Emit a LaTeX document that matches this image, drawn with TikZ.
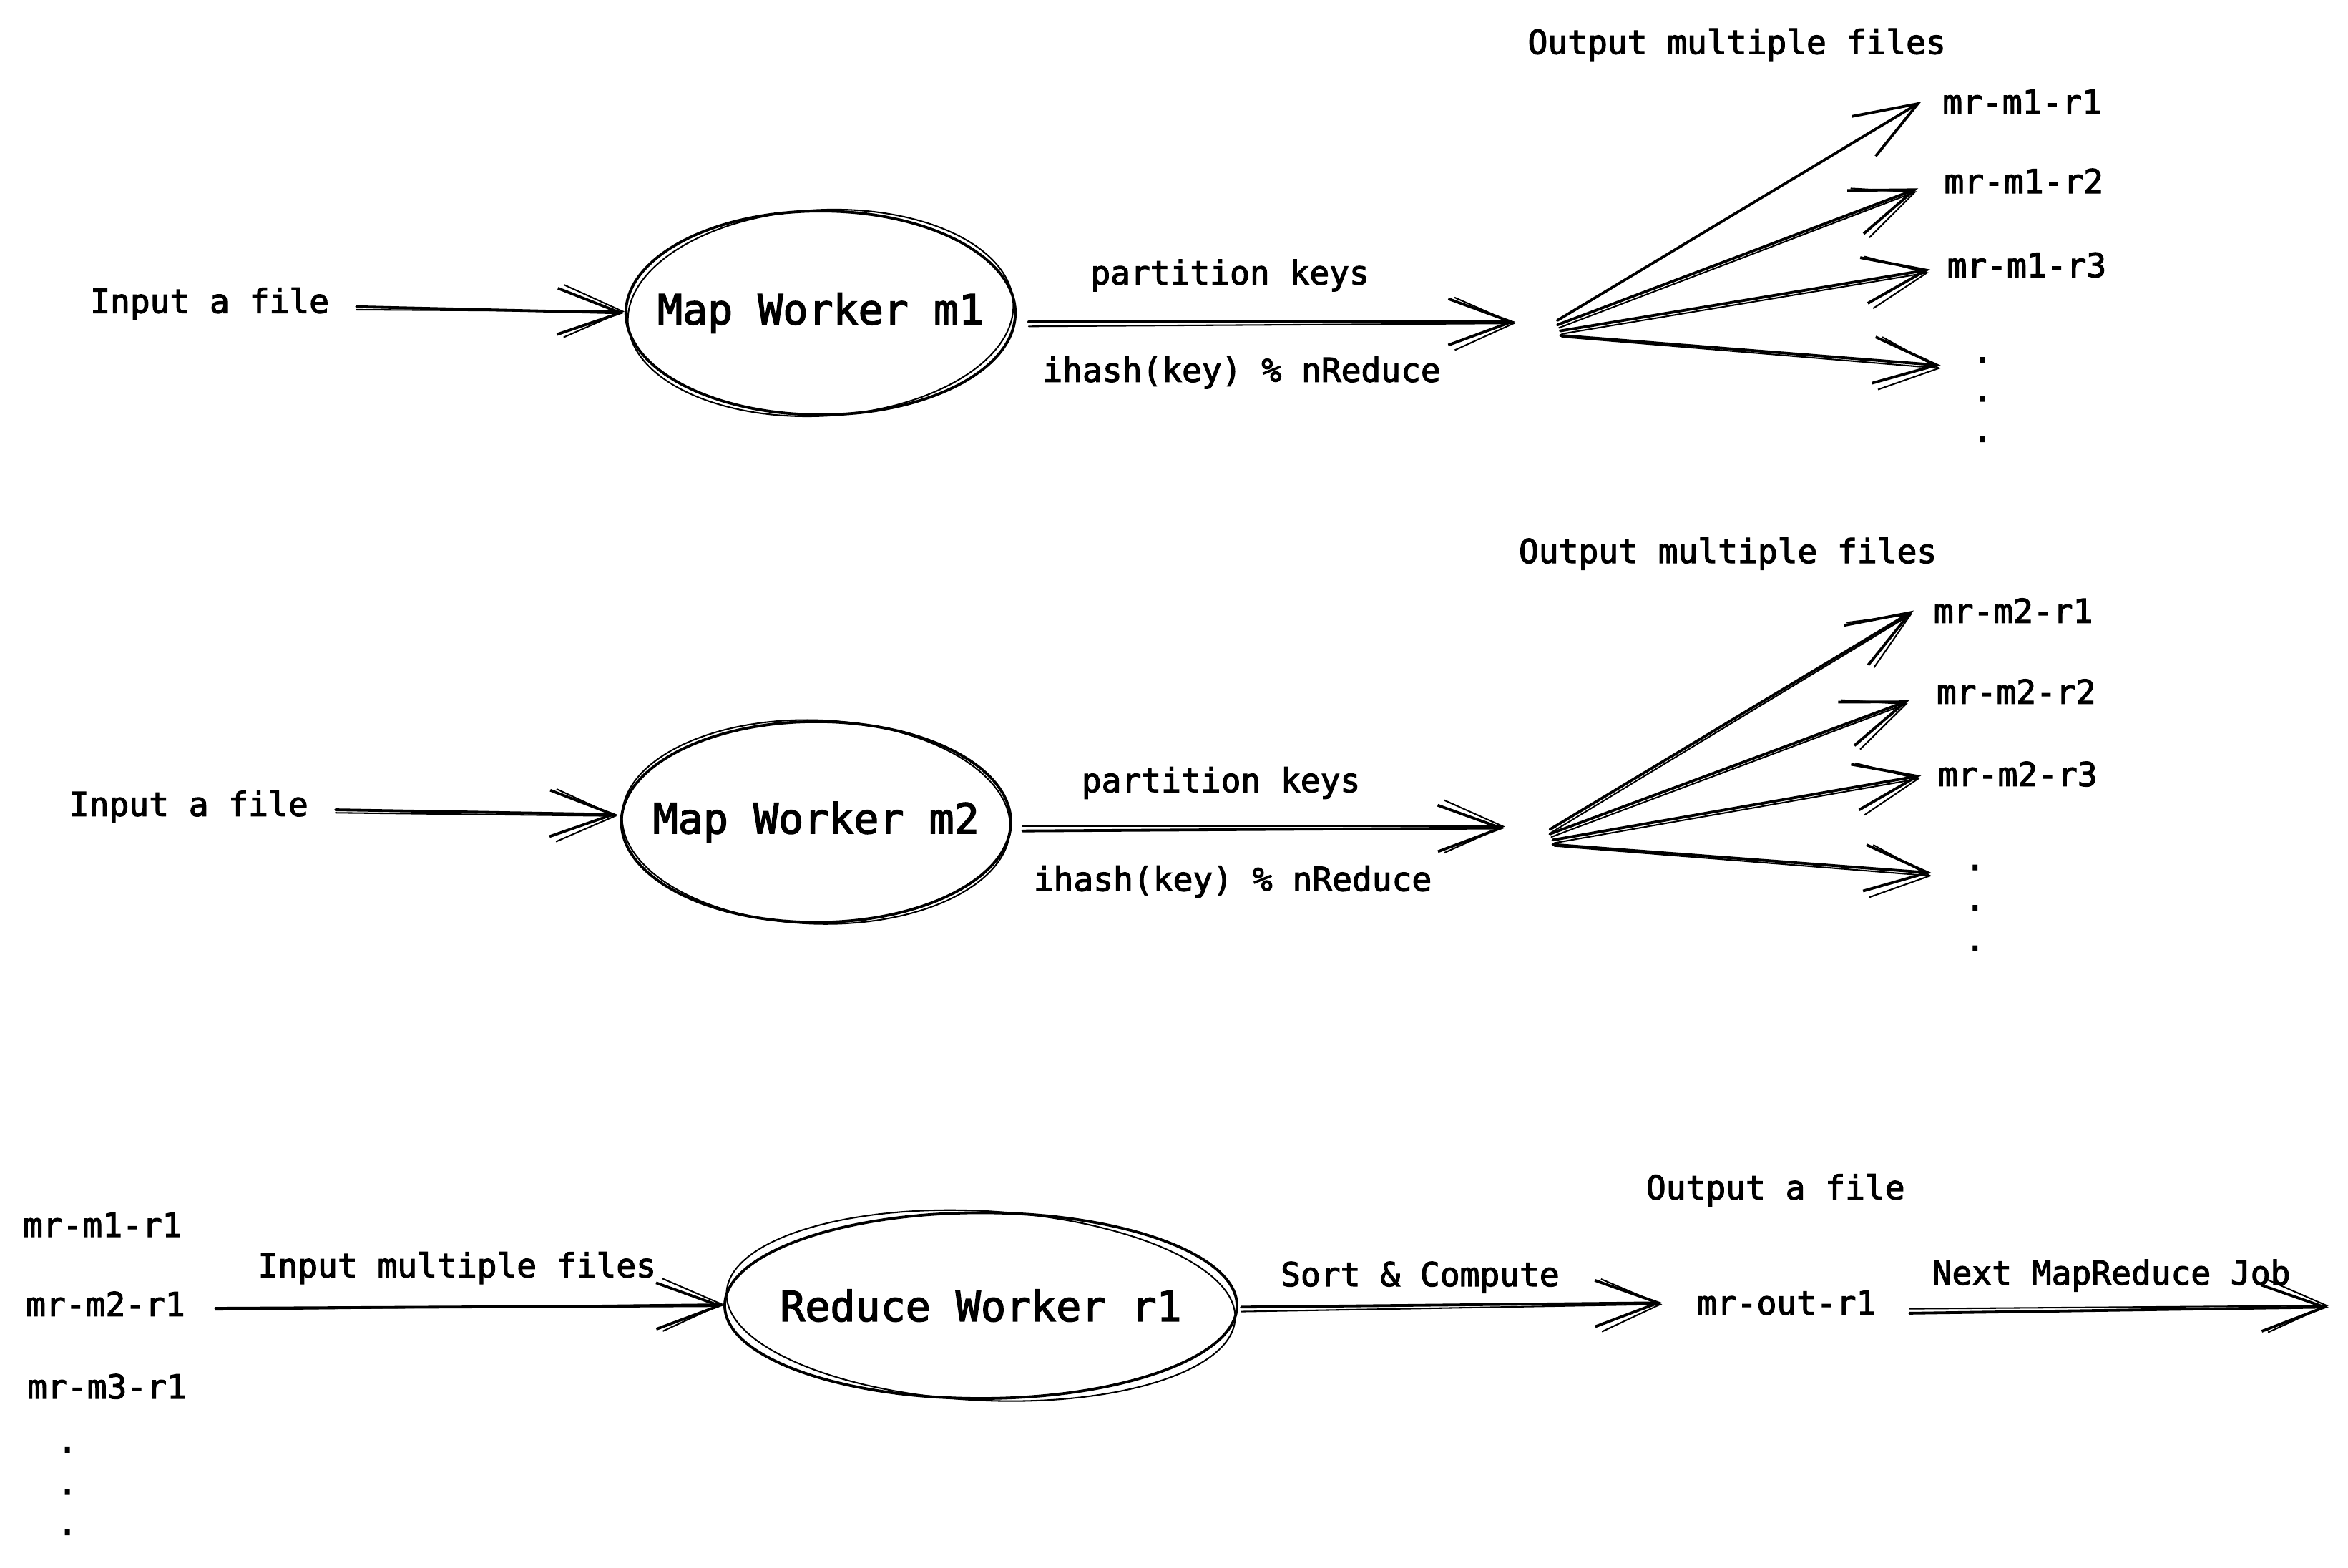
\documentclass[tikz,border=0pt]{standalone}
\usepackage{fontspec}
\newfontfamily\handfont[FakeBold=2.5]{DejaVu Sans Mono}
\usetikzlibrary{shapes.geometric,arrows.meta,calc}
\begin{document}
\begin{tikzpicture}[x=0.025cm,y=-0.025cm,
 lbl/.style={inner sep=0pt, anchor=base west, font=\handfont\fontsize{15.7}{18.9}\selectfont},
 dotlbl/.style={inner sep=0pt, anchor=base, font=\handfont\fontsize{15.7}{18.9}\selectfont},
 worker/.style={ellipse, draw, line width=1.3pt, inner sep=0pt},
 wlabel/.style={font=\handfont\fontsize{19.8}{24}\selectfont},
 sketch/.style={line width=0.7pt},
 conn/.style={line width=1.3pt, line cap=round, -{Straight Barb[length=30pt,width=22pt]}},
 conn2/.style={line width=0.7pt, line cap=round, -{Straight Barb[length=28pt,width=25pt]}}]
\fill[white] (0,0) rectangle (1568,1047);
\useasboundingbox (0,0) rectangle (1568,1047);

% ---------------- Section 1 ----------------
\node[lbl] (in1) at (60,209) {Input a file};
\node[worker, minimum width=6.5cm, minimum height=3.4cm,
      label={[wlabel]center:Map Worker m1}] (e1) at (548,209) {};
\draw[sketch, rotate around={3:(e1.center)}] (e1.center) ellipse [x radius=3.22cm, y radius=1.72cm];
\node[lbl] (pk1) at (728,190) {partition keys};
\node[lbl] (ih1) at (696,255) {ihash(key) \% nReduce};
\node[lbl] (om1) at (1020,36) {Output multiple files};
\node[lbl] (r11) at (1297,76) {mr-m1-r1};
\node[lbl] (r12) at (1298,129) {mr-m1-r2};
\node[lbl] (r13) at (1300,185) {mr-m1-r3};
\node[dotlbl] (d11) at (1324,242) {.};
\node[dotlbl] (d12) at (1324,268) {.};
\node[dotlbl] (d13) at (1324,295) {.};
\coordinate (f1) at (1012,215);
\coordinate (o1) at (1040,218);
\coordinate (t14) at (1296,244);

\draw[conn] ($(in1.east)+(18,2)$) -- (e1.west);
\draw[conn2] ($(in1.east)+(18,4)$) -- ($(e1.west)+(0,-1)$);
\draw[conn] ($(e1.east)+(8,6)$) -- (f1);
\draw[conn2] ($(e1.east)+(8,9)$) -- ($(f1)+(0,1)$);
\draw[conn] ($(o1)+(0,-4)$) -- ($(r11.west)+(-14,0)$);
\draw[conn] ($(o1)+(0,-1)$) -- ($(r12.west)+(-17,5)$);
\draw[conn2] ($(o1)+(1,1)$) -- ($(r12.west)+(-18,7)$);
\draw[conn] ($(o1)+(2,3)$) -- ($(r13.west)+(-11,3)$);
\draw[conn2] ($(o1)+(3,5)$) -- ($(r13.west)+(-12,5)$);
\draw[conn] ($(o1)+(2,6)$) -- (t14);
\draw[conn2] ($(o1)+(3,7)$) -- ($(t14)+(0,2)$);

% ---------------- Section 2 ----------------
\node[lbl] (in2) at (46,545) {Input a file};
\node[worker, minimum width=6.5cm, minimum height=3.35cm,
      label={[wlabel]center:Map Worker m2}] (e2) at (545,549) {};
\draw[sketch, rotate around={-2:(e2.center)}] (e2.center) ellipse [x radius=3.24cm, y radius=1.70cm];
\node[lbl] (pk2) at (722,529) {partition keys};
\node[lbl] (ih2) at (690,595) {ihash(key) \% nReduce};
\node[lbl] (om2) at (1014,376) {Output multiple files};
\node[lbl] (r21) at (1291,416) {mr-m2-r1};
\node[lbl] (r22) at (1293,470) {mr-m2-r2};
\node[lbl] (r23) at (1294,525) {mr-m2-r3};
\node[dotlbl] (d21) at (1319,581) {.};
\node[dotlbl] (d22) at (1319,608) {.};
\node[dotlbl] (d23) at (1319,635) {.};
\coordinate (f2) at (1005,553);
\coordinate (o2) at (1035,558);
\coordinate (t24) at (1290,583);

\draw[conn] ($(in2.east)+(18,2)$) -- ($(e2.west)+(-2,-5)$);
\draw[conn2] ($(in2.east)+(18,4)$) -- ($(e2.west)+(-2,-4)$);
\draw[conn] ($(e2.east)+(7,6)$) -- (f2);
\draw[conn2] ($(e2.east)+(7,3)$) -- ($(f2)+(0,-1)$);
\draw[conn] ($(o2)+(0,-4)$) -- ($(r21.west)+(-13,0)$);
\draw[conn2] ($(o2)+(1,-2)$) -- ($(r21.west)+(-14,2)$);
\draw[conn] ($(o2)+(0,-1)$) -- ($(r22.west)+(-18,6)$);
\draw[conn2] ($(o2)+(1,1)$) -- ($(r22.west)+(-19,8)$);
\draw[conn] ($(o2)+(2,3)$) -- ($(r23.west)+(-11,1)$);
\draw[conn2] ($(o2)+(3,5)$) -- ($(r23.west)+(-12,3)$);
\draw[conn] ($(o2)+(2,6)$) -- (t24);
\draw[conn2] ($(o2)+(3,7)$) -- ($(t24)+(0,2)$);

% ---------------- Section 3 ----------------
\node[lbl] (a1) at (15,826) {mr-m1-r1};
\node[lbl] (a2) at (17,879) {mr-m2-r1};
\node[lbl] (a3) at (18,934) {mr-m3-r1};
\node[dotlbl] (da1) at (45,970) {.};
\node[dotlbl] (da2) at (45,998) {.};
\node[dotlbl] (da3) at (45,1025) {.};
\node[lbl] (imf) at (172,853) {Input multiple files};
\node[worker, minimum width=8.55cm, minimum height=3.1cm,
      label={[wlabel]center:Reduce Worker r1}] (e3) at (655,872) {};
\draw[sketch, rotate around={-3:(e3.center)}] (e3.center) ellipse [x radius=4.25cm, y radius=1.58cm];
\node[lbl] (sc) at (855,859) {Sort \& Compute};
\node[lbl] (oaf) at (1099,801) {Output a file};
\node[lbl] (out) at (1133,878) {mr-out-r1};
\node[lbl] (nmr) at (1290,858) {Next MapReduce Job};
\coordinate (nx) at (1555,873);

\draw[conn] ($(a2.east)+(20,3)$) -- (e3.west);
\draw[conn2] ($(a2.east)+(20,4)$) -- ($(e3.west)+(0,-1)$);
\draw[conn] ($(e3.east)+(2,1)$) -- ($(out.west)+(-23,0)$);
\draw[conn2] ($(e3.east)+(2,4)$) -- ($(out.west)+(-23,1)$);
\draw[conn] ($(out.east)+(22,7)$) -- (nx);
\draw[conn2] ($(out.east)+(22,4)$) -- ($(nx)+(0,-1)$);
\end{tikzpicture}
\end{document}
